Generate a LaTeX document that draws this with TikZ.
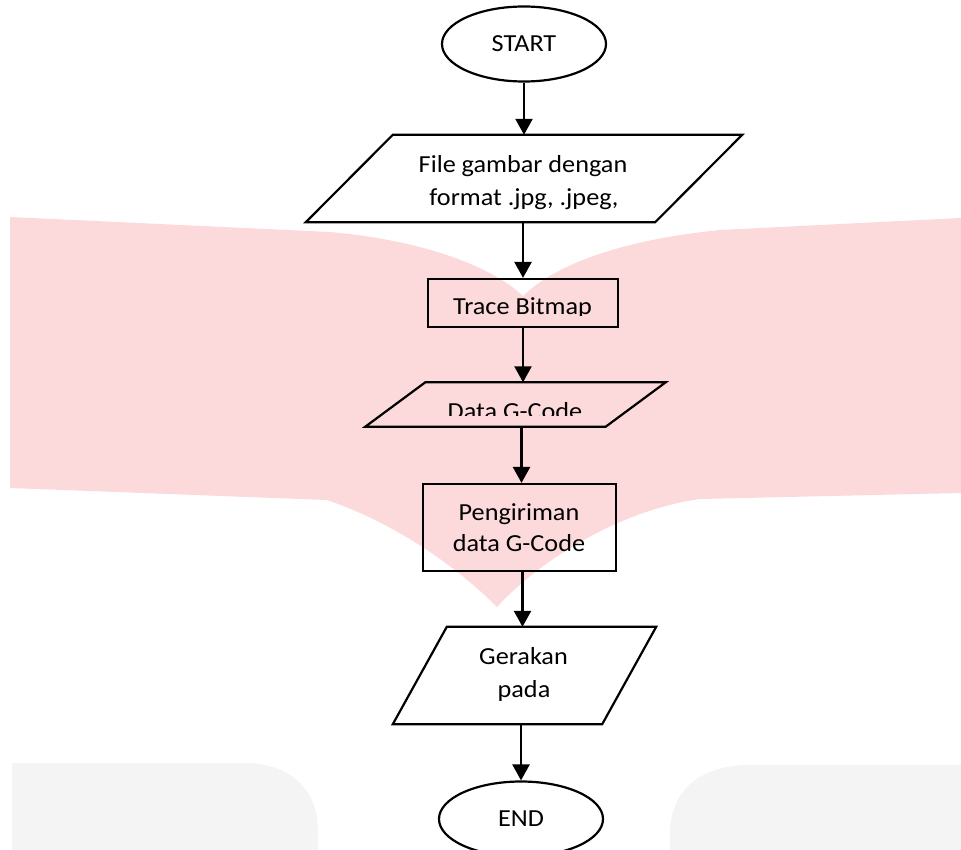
\documentclass[tikz,border=0pt]{standalone}
\usepackage{fontspec}
\setmainfont{Carlito}[FakeStretch=1.07]
\usetikzlibrary{shapes.geometric,arrows.meta}
\definecolor{wmpink}{RGB}{252,217,219}
\definecolor{wmgray}{RGB}{244,244,244}
\newcommand{\flowfont}{\fontsize{24.5}{32}\selectfont}
\begin{document}
\begin{tikzpicture}[x=1pt,y=-1pt,
  line join=miter,
  shp/.style={draw=black,line width=2.2pt},
  term/.style={shp,ellipse,minimum width=164pt,minimum height=75pt,inner sep=0pt,font=\flowfont},
  proc/.style={shp,rectangle,inner sep=0pt},
  iobox/.style={rectangle,inner sep=0pt,draw=none},
  lbl/.style={inner sep=0pt,anchor=base,font=\flowfont},
  arr/.style={line width=2.4pt,-{Triangle[width=17pt,length=16pt]}}]
\useasboundingbox (0,0) rectangle (961,850);
% watermark background
\fill[wmpink] (10,217) -- (330,232) .. controls (420,240) and (490,265) .. (523,296)
  .. controls (555,265) and (620,240) .. (720,230) -- (961,218) -- (961,493)
  -- (700,499) .. controls (620,510) and (540,560) .. (497,607)
  .. controls (460,570) and (400,525) .. (327,500) -- (10,488) -- cycle;
\fill[wmgray] (12,850) -- (12,763) -- (245,763) .. controls (290,763) and (318,790) .. (318,830) -- (318,850) -- cycle;
\fill[wmgray] (670,850) -- (670,830) .. controls (672,790) and (700,765) .. (750,765) -- (961,765) -- (961,850) -- cycle;

% shapes
\node[term] (start) at (524,44) {START};

\node[iobox,minimum width=436pt,minimum height=87pt] (p1) at (524,178.5) {};
\draw[shp] ([xshift=87pt]p1.north west) -- (p1.north east) -- ([xshift=-87pt]p1.south east) -- (p1.south west) -- cycle;
\node[lbl] (p1a) at (523,173) {File gambar dengan};
\node[lbl] (p1b) at (524,206) {format .jpg, .jpeg,};

\node[proc,minimum width=190pt,minimum height=48pt] (trace) at (523,303) {};
\begin{scope}
  \clip (428,279) rectangle (618,315.5);
  \node[lbl] (tracelbl) at (522.5,315) {Trace Bitmap};
\end{scope}

\node[iobox,minimum width=300pt,minimum height=44pt] (p2) at (515.5,404.5) {};
\draw[shp] ([xshift=60pt]p2.north west) -- (p2.north east) -- ([xshift=-60pt]p2.south east) -- (p2.south west) -- cycle;
\begin{scope}
  \clip (366,383) rectangle (666,415);
  \node[lbl] (p2lbl) at (515,419) {Data G-Code};
\end{scope}

\node[proc,minimum width=193pt,minimum height=87pt] (send) at (519.5,527.5) {};
\node[lbl] (senda) at (519,520.5) {Pengiriman};
\node[lbl] (sendb) at (519,551.5) {data G-Code};

\node[iobox,minimum width=263pt,minimum height=97pt] (p3) at (524.5,675.5) {};
\draw[shp] ([xshift=54pt]p3.north west) -- (p3.north east) -- ([xshift=-54pt]p3.south east) -- (p3.south west) -- cycle;
\node[lbl] (p3a) at (523.5,664) {Gerakan};
\node[lbl] (p3b) at (524,697) {pada};

\node[term] (end) at (521,819) {END};

% connectors
\draw[arr] (start.south) -- (start.south |- p1.north);
\draw[arr] (trace.north |- p1.south) -- (trace.north);
\draw[arr] (trace.south) -- (trace.south |- p2.north);
\draw[arr] ([xshift=2pt]send.north |- p2.south) -- ([xshift=2pt]send.north);
\draw[arr] ([xshift=3pt]send.south) -- ([xshift=3pt]send.south |- p3.north);
\draw[arr] (end.north |- p3.south) -- (end.north);
\end{tikzpicture}
\end{document}
